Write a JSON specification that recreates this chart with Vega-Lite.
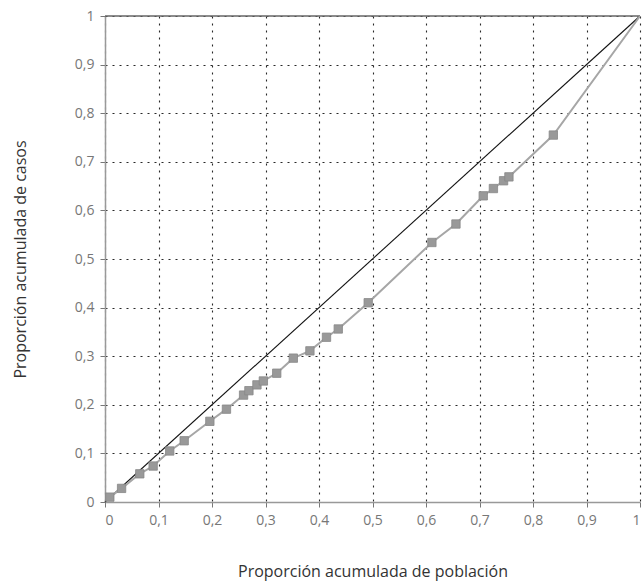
{
  "$schema": "https://vega.github.io/schema/vega-lite/v6.json",
  "autosize": {"type": "none"},
  "width": 535,
  "height": 486,
  "padding": {"left": 105, "top": 16, "right": 3, "bottom": 85},
  "background": "white",
  "config": {
    "view": {"stroke": null},
    "axis": {
      "labelFont": "Open Sans",
      "titleFont": "Open Sans",
      "labelColor": "#777",
      "labelFontSize": 14,
      "titleFontSize": 16,
      "titleFontWeight": "normal",
      "titleColor": "#333",
      "domainColor": "#999",
      "domainWidth": 1.5,
      "tickColor": "#777",
      "tickSize": 5,
      "gridColor": "#111",
      "gridDash": [2, 5],
      "gridWidth": 1.1,
      "gridOpacity": 0.9
    }
  },
  "datasets": {
    "curve": [
      {"pob": 0.009, "casos": 0.010},
      {"pob": 0.031, "casos": 0.028},
      {"pob": 0.065, "casos": 0.058},
      {"pob": 0.090, "casos": 0.074},
      {"pob": 0.121, "casos": 0.105},
      {"pob": 0.148, "casos": 0.126},
      {"pob": 0.196, "casos": 0.166},
      {"pob": 0.227, "casos": 0.191},
      {"pob": 0.259, "casos": 0.220},
      {"pob": 0.269, "casos": 0.229},
      {"pob": 0.284, "casos": 0.241},
      {"pob": 0.296, "casos": 0.249},
      {"pob": 0.321, "casos": 0.265},
      {"pob": 0.352, "casos": 0.296},
      {"pob": 0.383, "casos": 0.311},
      {"pob": 0.414, "casos": 0.339},
      {"pob": 0.436, "casos": 0.356},
      {"pob": 0.492, "casos": 0.410},
      {"pob": 0.611, "casos": 0.534},
      {"pob": 0.656, "casos": 0.572},
      {"pob": 0.707, "casos": 0.630},
      {"pob": 0.726, "casos": 0.645},
      {"pob": 0.745, "casos": 0.661},
      {"pob": 0.755, "casos": 0.669},
      {"pob": 0.838, "casos": 0.755},
      {"pob": 1.0, "casos": 1.0}
    ],
    "diag": [
      {"pob": 0, "casos": 0},
      {"pob": 1, "casos": 1}
    ]
  },
  "layer": [
    {
      "data": {"name": "diag"},
      "mark": {"type": "line", "color": "#111", "strokeWidth": 1.1},
      "encoding": {
        "x": {
          "field": "pob", "type": "quantitative",
          "scale": {"domain": [0, 1], "nice": false},
          "axis": {
            "title": "Proporción acumulada de población",
            "values": [0, 0.1, 0.2, 0.3, 0.4, 0.5, 0.6, 0.7, 0.8, 0.9, 1],
            "labelExpr": "replace(format(datum.value, '.1~f'), '.', ',')",
            "labelPadding": 6,
            "titlePadding": 36,
            "grid": true
          }
        },
        "y": {
          "field": "casos", "type": "quantitative",
          "scale": {"domain": [0, 1], "nice": false},
          "axis": {
            "title": "Proporción acumulada de casos",
            "values": [0, 0.1, 0.2, 0.3, 0.4, 0.5, 0.6, 0.7, 0.8, 0.9, 1],
            "labelExpr": "replace(format(datum.value, '.1~f'), '.', ',')",
            "labelPadding": 6,
            "titlePadding": 46,
            "grid": true
          }
        }
      }
    },
    {
      "data": {"values": [{"v": 1}]},
      "mark": {"type": "rule", "color": "#666", "strokeWidth": 1.5},
      "encoding": {"y": {"datum": 1}}
    },
    {
      "data": {"name": "curve"},
      "mark": {"type": "line", "color": "#a6a6a6", "strokeWidth": 2},
      "encoding": {
        "x": {"field": "pob", "type": "quantitative"},
        "y": {"field": "casos", "type": "quantitative"}
      }
    },
    {
      "data": {"name": "curve"},
      "transform": [{"filter": "datum.pob < 1"}],
      "mark": {"type": "point", "shape": "square", "filled": true, "size": 70, "color": "#999", "opacity": 1, "stroke": "#888", "strokeWidth": 0.8},
      "encoding": {
        "x": {"field": "pob", "type": "quantitative"},
        "y": {"field": "casos", "type": "quantitative"}
      }
    }
  ]
}
